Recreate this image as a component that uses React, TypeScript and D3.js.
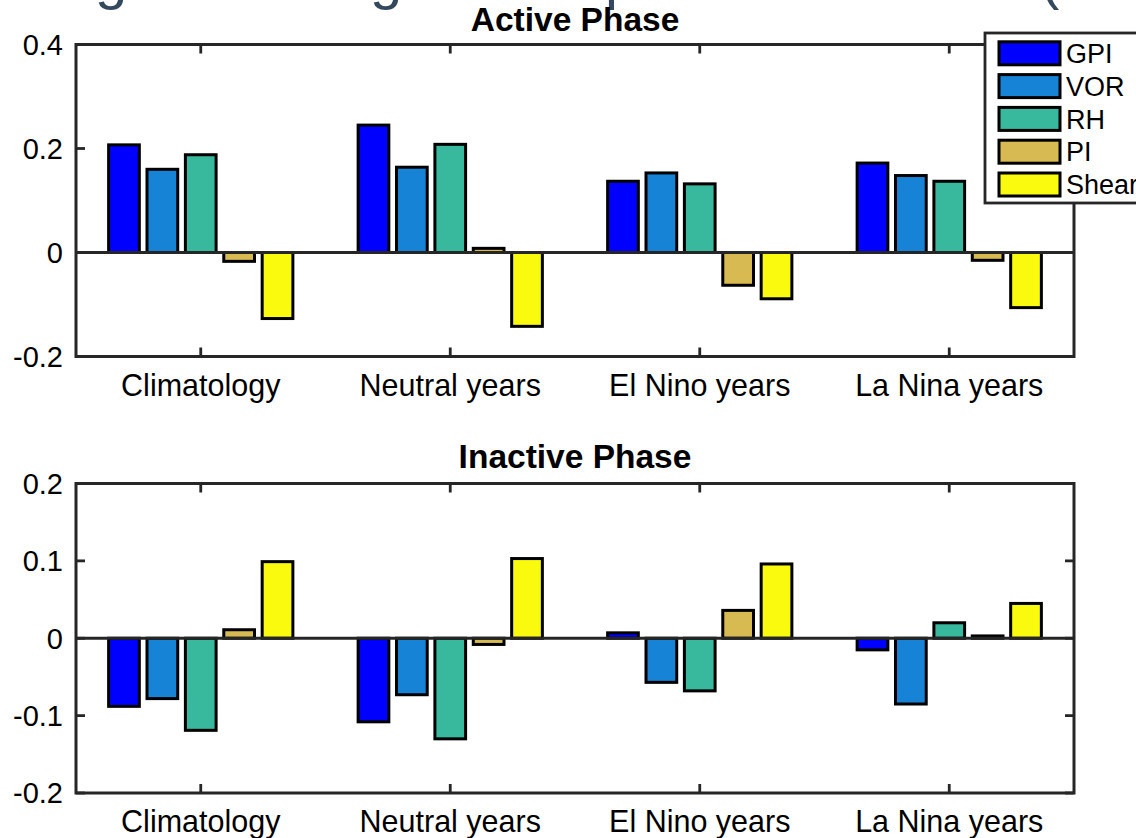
import React from "react";
import * as d3 from "d3";

const categories = ["Climatology", "Neutral years", "El Nino years", "La Nina years"];
const seriesNames = ["GPI", "VOR", "RH", "PI", "Shear"];
const seriesColors = ["#0000FF", "#1683D6", "#38B99E", "#D8BA52", "#F9FA0E"];

// Active phase values
const activeGPI = [0.207, 0.245, 0.137, 0.172];
const activeVOR = [0.160, 0.164, 0.153, 0.148];
const activeRH = [0.188, 0.208, 0.132, 0.137];
const activePI = [-0.017, 0.008, -0.063, -0.015];
const activeShear = [-0.127, -0.142, -0.089, -0.106];

// Inactive phase values
const inactiveGPI = [-0.088, -0.108, 0.007, -0.015];
const inactiveVOR = [-0.078, -0.073, -0.057, -0.085];
const inactiveRH = [-0.119, -0.130, -0.068, 0.020];
const inactivePI = [0.011, -0.008, 0.036, 0.003];
const inactiveShear = [0.099, 0.103, 0.096, 0.045];

const activeTicks = [-0.2, 0, 0.2, 0.4];
const inactiveTicks = [-0.2, -0.1, 0, 0.1, 0.2];

const W = 1136;
const H = 838;
const AX = "#262626";
const FONT = "'Liberation Sans', Arial, Helvetica, sans-serif";

type PanelProps = {
  title: string;
  series: number[][];
  ticks: number[];
  domain: [number, number];
  top: number;
  bottom: number;
  titleY: number;
  labelY: number;
};

const X0 = 76;
const X1 = 1074;

function Panel({ title, series, ticks, domain, top, bottom, titleY, labelY }: PanelProps) {
  const x = d3.scaleBand<string>().domain(categories).range([X0, X1]).paddingInner(0).paddingOuter(0);
  const groupW = x.bandwidth() * Math.min(0.8, 5 / 6.5);
  const inner = d3
    .scaleBand<string>()
    .domain(seriesNames)
    .range([-groupW / 2, groupW / 2])
    .paddingInner(0.2)
    .paddingOuter(0.1);
  const y = d3.scaleLinear().domain(domain).range([bottom, top]);
  const tickLen = 9;
  const fmt = (v: number) => (v === 0 ? "0" : String(v));
  return (
    <g>
      <text x={(X0 + X1) / 2} y={titleY} textAnchor="middle" fontFamily={FONT} fontWeight="bold" fontSize={33.5} fill="#000">
        {title}
      </text>
      {categories.map((c, ci) =>
        seriesNames.map((s, si) => {
          const v = series[si][ci];
          const cx = (x(c) as number) + x.bandwidth() / 2;
          const bx = cx + (inner(s) as number);
          const y0 = y(0);
          const yv = y(v);
          return (
            <rect
              key={c + s}
              x={bx}
              y={Math.min(y0, yv)}
              width={inner.bandwidth()}
              height={Math.abs(yv - y0)}
              fill={seriesColors[si]}
              stroke="#000"
              strokeWidth={3}
            />
          );
        })
      )}
      <line x1={X0} x2={X1} y1={y(0)} y2={y(0)} stroke={AX} strokeWidth={2.8} />
      <rect x={X0} y={top} width={X1 - X0} height={bottom - top} fill="none" stroke={AX} strokeWidth={3} />
      {ticks.map((t) => (
        <g key={"yt" + t}>
          <line x1={X0} x2={X0 + tickLen} y1={y(t)} y2={y(t)} stroke={AX} strokeWidth={2.8} />
          <line x1={X1} x2={X1 - tickLen} y1={y(t)} y2={y(t)} stroke={AX} strokeWidth={2.8} />
          <text x={63} y={y(t)} dy="0.36em" textAnchor="end" fontFamily={FONT} fontSize={29} fill="#000">
            {fmt(t)}
          </text>
        </g>
      ))}
      {categories.map((c) => {
        const cx = (x(c) as number) + x.bandwidth() / 2;
        return (
          <g key={"xt" + c}>
            <line x1={cx} x2={cx} y1={bottom} y2={bottom - tickLen} stroke={AX} strokeWidth={2.8} />
            <line x1={cx} x2={cx} y1={top} y2={top + tickLen} stroke={AX} strokeWidth={2.8} />
            <text x={cx} y={labelY} textAnchor="middle" fontFamily={FONT} fontSize={30.5} fill="#000">
              {c}
            </text>
          </g>
        );
      })}
    </g>
  );
}

export default function App() {
  const activeSeries = [activeGPI, activeVOR, activeRH, activePI, activeShear];
  const inactiveSeries = [inactiveGPI, inactiveVOR, inactiveRH, inactivePI, inactiveShear];
  const legendTop = 33;
  const rowPitch = 32.8;
  return (
    <svg
      width={W}
      height={H}
      viewBox={`0 0 ${W} ${H}`}
      style={{ position: "absolute", left: 0, top: 0, background: "#fff", overflow: "hidden" }}
    >
      <rect x={0} y={0} width={W} height={H} fill="#fff" />
      {/* cropped slide heading (only descenders visible) */}
      <g fontFamily={FONT} fontSize={58} fill="#34495E">
        <text x={95} y={-2}>g</text>
        <text x={370} y={-2}>g</text>
        <text x={605} y={-2}>p</text>
        <text x={1040} y={-2}>(</text>
      </g>
      <Panel
        title="Active Phase"
        series={activeSeries}
        ticks={activeTicks}
        domain={[-0.2, 0.4]}
        top={44.5}
        bottom={356.5}
        titleY={31}
        labelY={396}
      />
      <Panel
        title="Inactive Phase"
        series={inactiveSeries}
        ticks={inactiveTicks}
        domain={[-0.2, 0.2]}
        top={483.5}
        bottom={793}
        titleY={468}
        labelY={832}
      />
      <g>
        <rect x={985} y={legendTop} width={170} height={170} fill="#fff" stroke={AX} strokeWidth={2.8} />
        {seriesNames.map((s, i) => {
          const cy = legendTop + 20.3 + i * rowPitch;
          return (
            <g key={"lg" + s}>
              <rect x={999} y={cy - 11.5} width={61} height={23} fill={seriesColors[i]} stroke="#000" strokeWidth={3} />
              <text x={1066} y={cy} dy="0.36em" fontFamily={FONT} fontSize={27} fill="#000">
                {s}
              </text>
            </g>
          );
        })}
      </g>
    </svg>
  );
}
